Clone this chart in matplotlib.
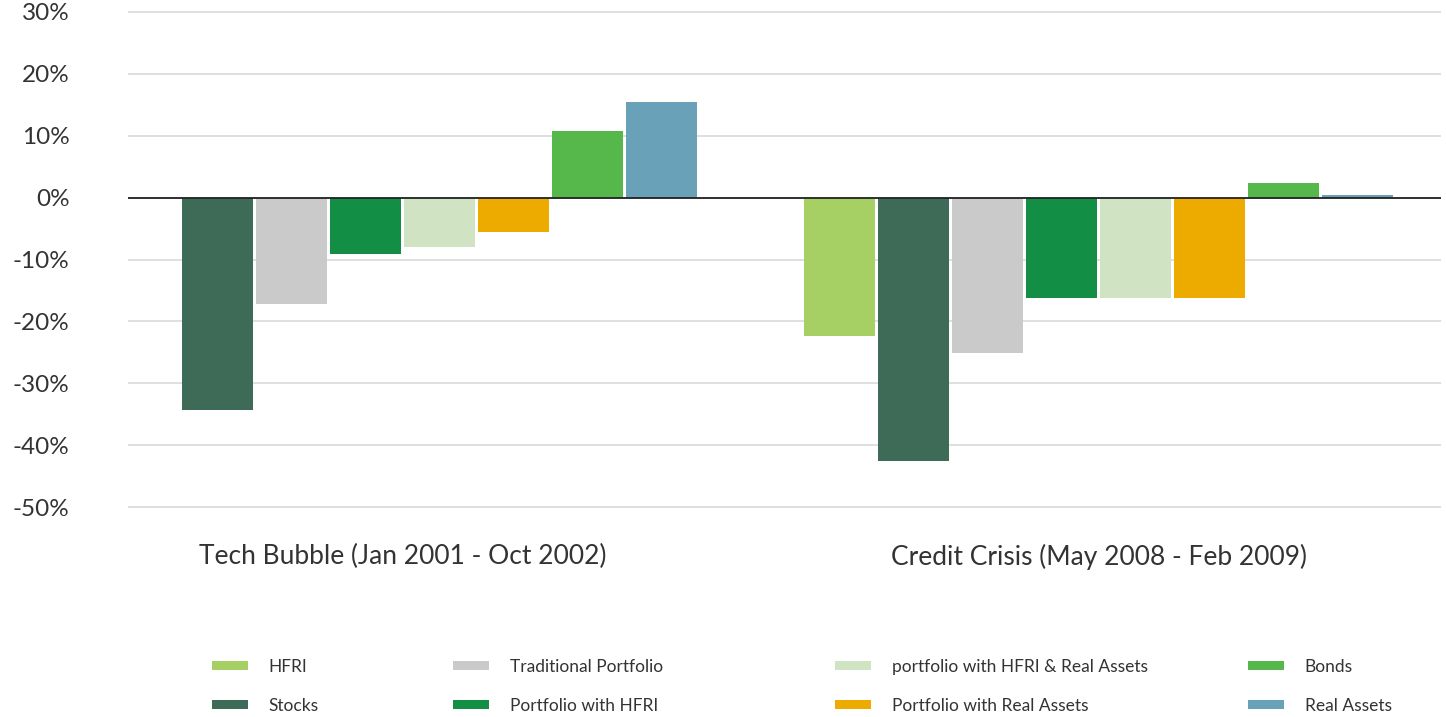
import matplotlib.pyplot as plt
import numpy as np

# data
periods = ["Tech Bubble (Jan 2001 - Oct 2002)", "Credit Crisis (May 2008 - Feb 2009)"]
series_names = [
    "HFRI",
    "Stocks",
    "Traditional Portfolio",
    "Portfolio with HFRI",
    "portfolio with HFRI & Real Assets",
    "Portfolio with Real Assets",
    "Bonds",
    "Real Assets",
]
hfri = [np.nan, -22.3]
stocks = [-34.3, -42.5]
traditional = [-17.2, -25.1]
port_hfri = [-9.1, -16.3]
port_hfri_ra = [-7.9, -16.3]
port_ra = [-5.5, -16.3]
bonds = [10.8, 2.3]
real_assets = [15.4, 0.5]
yticks = [30, 20, 10, 0, -10, -20, -30, -40, -50]

series_values = [hfri, stocks, traditional, port_hfri, port_hfri_ra, port_ra, bonds, real_assets]
colors = ["#a6d064", "#3e6b57", "#cacaca", "#128f45", "#d0e3c3", "#edab00", "#56b84a", "#69a1b9"]

plt.rcParams["font.family"] = ["Lato", "DejaVu Sans"]
text_color = "#333333"

fig = plt.figure(figsize=(14.46, 7.17), dpi=100)
ax = fig.add_axes([128 / 1446, 1 - 513.2 / 717, (1441 - 128) / 1446, 507.4 / 717])

x = np.arange(len(periods))
slot = 0.1064
bar_width = 0.102
n = len(series_values)
handles = []
for i, (vals, col) in enumerate(zip(series_values, colors)):
    offset = (i - (n - 1) / 2) * slot
    b = ax.bar(x + offset, vals, width=bar_width, color=col, label=series_names[i], zorder=3)
    handles.append(b)

# 零线
ax.axhline(0, color="#222222", linewidth=1.3, zorder=4)

ax.set_ylim(-51, 31)
ax.set_xlim(-0.395, 1.492)
ax.set_yticks(yticks)
ax.set_yticklabels(["{}%".format(v) for v in yticks])
ax.set_xticks(x)
ax.set_xticklabels(periods)
ax.tick_params(axis="y", length=0, pad=42, labelsize=17.5, labelcolor=text_color)
ax.tick_params(axis="x", length=0, pad=22, labelsize=19, labelcolor=text_color)

ax.yaxis.grid(True, color="#d6d6d6", linewidth=1.1)
ax.set_axisbelow(True)
for s in ax.spines.values():
    s.set_visible(False)

# legend: four columns placed separately
col_x = [205, 446, 828, 1241]
for c in range(4):
    leg = fig.legend(
        handles[2 * c:2 * c + 2],
        series_names[2 * c:2 * c + 2],
        loc="upper left",
        bbox_to_anchor=(col_x[c] / 1446, 1 - 652 / 717),
        frameon=False,
        fontsize=12.5,
        handlelength=2.07,
        handleheight=0.42,
        handletextpad=1.2,
        labelspacing=1.3,
        borderaxespad=0,
        borderpad=0.4,
    )
    for t in leg.get_texts():
        t.set_color(text_color)

plt.savefig("out.png", dpi=100)
